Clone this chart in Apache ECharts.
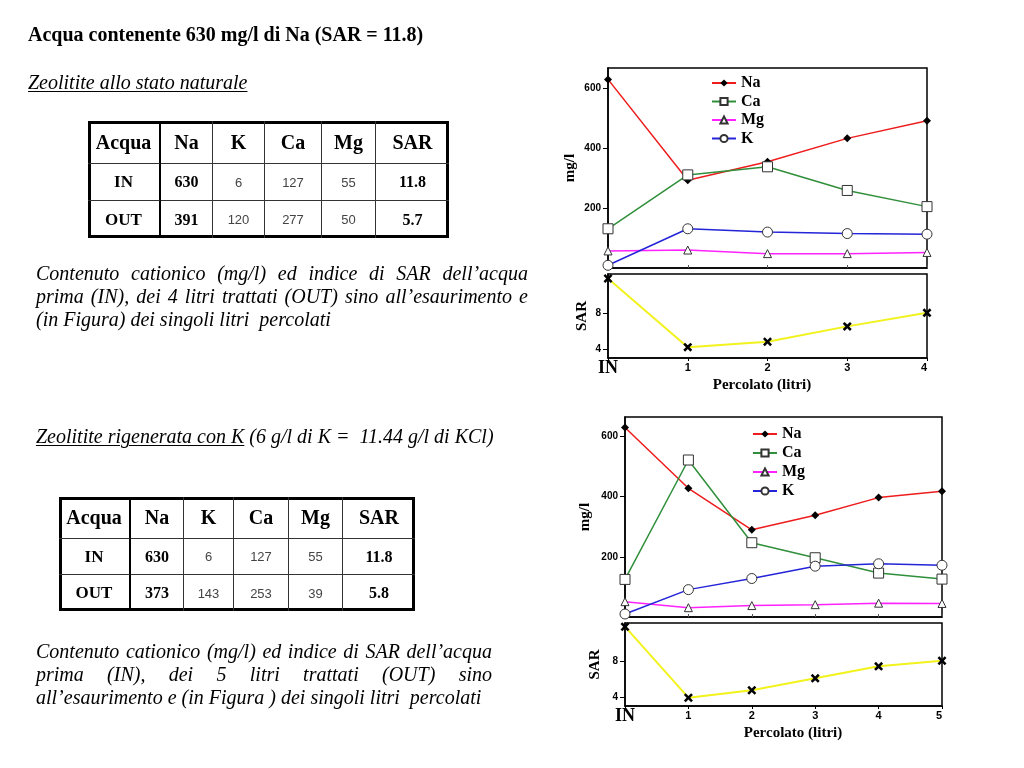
<!DOCTYPE html>
<html><head><meta charset="utf-8">
<script src="https://cdn.jsdelivr.net/npm/echarts@6/dist/echarts.min.js"></script>
<style>
html,body{margin:0;padding:0;background:#fff;}
#page{position:relative;width:1024px;height:768px;overflow:hidden;font-family:"Liberation Serif","Times New Roman",serif;color:#000;}
#chart{position:absolute;left:0;top:0;width:1024px;height:768px;}
.t{position:absolute;white-space:nowrap;font-size:20px;line-height:23px;}
.b{font-weight:bold;}
.it{font-style:italic;}
.u{text-decoration:underline;text-underline-offset:2px;text-decoration-thickness:1px;}
.par{position:absolute;font-style:italic;font-size:20px;line-height:23px;}
.par .j{text-align:justify;text-align-last:justify;}
.par .l{text-align:left;white-space:nowrap;}
.tbox{position:absolute;border:3px solid #000;box-sizing:border-box;}
.cell{position:absolute;box-sizing:border-box;display:flex;align-items:center;justify-content:center;}
.hd{font-weight:bold;font-size:20px;}
.rl{font-weight:bold;font-size:17px;}
.bv{font-weight:bold;font-size:16px;}
.sv{font-family:"Liberation Sans",Arial,sans-serif;font-size:13px;color:#444;}
</style>
</head><body>
<div id="page">
  <div id="chart"></div>
  <div class="t b" style="left:28px;top:23px;">Acqua contenente 630 mg/l di Na (SAR = 11.8)</div>
  <div class="t it u" style="left:28px;top:71px;">Zeolitite allo stato naturale</div>
  <div class="par" style="left:36px;top:262px;width:492px;">
    <div class="j">Contenuto cationico (mg/l) ed indice di SAR dell’acqua</div>
    <div class="j">prima (IN), dei 4 litri trattati (OUT) sino all’esaurimento e</div>
    <div class="l">(in Figura) dei singoli litri&nbsp; percolati</div>
  </div>
  <div class="t it" style="left:36px;top:425px;"><span class="u">Zeolitite rigenerata con K</span> (6 g/l di K = &nbsp;11.44 g/l di KCl)</div>
  <div class="par" style="left:36px;top:640px;width:456px;">
    <div class="j">Contenuto cationico (mg/l) ed indice di SAR dell’acqua</div>
    <div class="j">prima (IN), dei 5 litri trattati (OUT) sino</div>
    <div class="l">all’esaurimento e (in Figura ) dei singoli litri&nbsp; percolati</div>
  </div>
</div>
<script>
// ---------- data ----------
const tableHead = ['Acqua', 'Na', 'K', 'Ca', 'Mg', 'SAR'];
const table1Rows = [['IN', '630', '6', '127', '55', '11.8'], ['OUT', '391', '120', '277', '50', '5.7']];
const table2Rows = [['IN', '630', '6', '127', '55', '11.8'], ['OUT', '373', '143', '253', '39', '5.8']];

const catTop = ['IN', '1', '2', '3', '4'];
const naTop = [630, 293, 355, 433, 492];
const caTop = [131, 311, 338, 259, 205];
const mgTop = [57, 60, 48, 48, 52];
const kTop = [9, 131, 120, 115, 113];
const sarTop = [11.8, 4.2, 4.8, 6.5, 8.0];

const catBot = ['IN', '1', '2', '3', '4', '5'];
const naBot = [630, 428, 290, 338, 397, 418];
const caBot = [125, 522, 247, 197, 146, 126];
const mgBot = [51, 31, 38, 41, 46, 45];
const kBot = [10, 91, 128, 169, 177, 172];
const sarBot = [11.7, 4.0, 4.8, 6.1, 7.4, 8.0];

const mgTicks = [200, 400, 600];
const sarTicks = [4, 8];
const legendNames = ['Na', 'Ca', 'Mg', 'K'];

// ---------- tables ----------
function buildTable(left, top, colW, rowH, head, rows) {
  const W = colW.reduce((a, b) => a + b, 0), H = rowH.reduce((a, b) => a + b, 0);
  const box = document.createElement('div');
  box.className = 'tbox';
  Object.assign(box.style, {left: left + 'px', top: top + 'px', width: W + 'px', height: H + 'px'});
  const all = [head].concat(rows);
  let y = 0;
  all.forEach((row, r) => {
    let x = 0;
    row.forEach((txt, c) => {
      const d = document.createElement('div');
      d.className = 'cell ' + (r === 0 ? 'hd' : (c === 0 ? 'rl' : ((c === 1 || c === 5) ? 'bv' : 'sv')));
      Object.assign(d.style, {left: (x - 3) + 'px', top: (y - 3) + 'px', width: colW[c] + 'px', height: rowH[r] + 'px'});
      if (c < row.length - 1) d.style.borderRight = c === 0 ? '2px solid #000' : '1px solid #333';
      if (r < all.length - 1) d.style.borderBottom = '1px solid #333';
      d.textContent = txt;
      box.appendChild(d);
      x += colW[c];
    });
    y += rowH[r];
  });
  document.getElementById('page').appendChild(box);
}
buildTable(88, 121, [73, 52, 52, 57, 54, 73], [43, 37, 37], tableHead, table1Rows);
buildTable(59, 497, [72, 53, 50, 55, 54, 72], [42, 36, 36], tableHead, table2Rows);

// ---------- chart ----------
const SERIF = '"Liberation Serif","Times New Roman",serif';
const SANS = '"Liberation Sans",Arial,sans-serif';
const COL = {Na: '#ee1c1c', Ca: '#2f8f3a', Mg: '#ff22ff', K: '#2424d8', SAR: '#f2f21c'};
const XSYM = 'path://M0,2L2,0L5,3L8,0L10,2L7,5L10,8L8,10L5,7L2,10L0,8L3,5Z';

const chart = echarts.init(document.getElementById('chart'));

function xMain(gi, cats) {
  return {type: 'category', gridIndex: gi, data: cats, boundaryGap: false,
    axisLine: {show: true, lineStyle: {color: '#000', width: 1.5}},
    axisTick: {inside: true, length: 3, lineStyle: {color: '#555'}},
    axisLabel: {show: false}, splitLine: {show: false}};
}
function xSar(gi, cats, pad) {
  return {type: 'category', gridIndex: gi, data: cats, boundaryGap: false,
    axisLine: {show: true, lineStyle: {color: '#000', width: 1.5}},
    axisTick: {length: 3, lineStyle: {color: '#000'}},
    axisLabel: {interval: 0, margin: 4, color: '#000', fontFamily: SANS, fontSize: 11, fontWeight: 'bold',
      alignMaxLabel: 'right',
      formatter: (v, i) => i === 0 ? '{in|' + v + '}' : v,
      rich: {in: {fontFamily: SERIF, fontSize: 18, lineHeight: 12, color: '#000'}}},
    name: 'Percolato (litri)', nameLocation: 'middle', nameGap: 17,
    nameTextStyle: {fontFamily: SERIF, fontWeight: 'bold', fontSize: 15, color: '#000', padding: pad},
    splitLine: {show: false}};
}
function yAx(gi, min, max, ticks, name, gap) {
  return {type: 'value', gridIndex: gi, min: min, max: max,
    axisLine: {show: true, lineStyle: {color: '#000', width: 1.5}},
    splitLine: {show: false},
    axisTick: {show: true, length: 5, customValues: ticks, lineStyle: {color: '#000'}},
    axisLabel: {customValues: ticks, margin: 7, color: '#000', fontFamily: SANS, fontSize: 10, fontWeight: 'bold'},
    name: name, nameLocation: 'middle', nameRotate: 90, nameGap: gap,
    nameTextStyle: {fontFamily: SERIF, fontWeight: 'bold', fontSize: 15, color: '#000'}};
}
const openStyle = {color: '#fff', borderColor: '#333', borderWidth: 1};
function ser(name, data, idx, symbol, size, itemStyle, lineColor, lw) {
  return {type: 'line', name: name, data: data, xAxisIndex: idx, yAxisIndex: idx,
    symbol: symbol, symbolSize: size, showAllSymbol: true, itemStyle: itemStyle,
    lineStyle: {color: lineColor, width: lw || 1.5}, emphasis: {disabled: true}, z: 3};
}
function mainSeries(idx, na, ca, mg, k) {
  return [
    ser('Na', na, idx, 'diamond', 8, {color: '#000'}, COL.Na),
    ser('Ca', ca, idx, 'rect', 10, openStyle, COL.Ca),
    ser('Mg', mg, idx, 'triangle', 8, openStyle, COL.Mg),
    ser('K', k, idx, 'circle', 10, openStyle, COL.K)
  ];
}
function legendAt(left, top, gap) {
  return {orient: 'vertical', left: left, top: top, padding: 0, itemWidth: 24, itemHeight: 9, itemGap: gap,
    selectedMode: false, data: legendNames,
    textStyle: {fontFamily: SERIF, fontWeight: 'bold', fontSize: 16, lineHeight: 16, color: '#000'}};
}
const gridBox = {show: true, borderColor: '#000', borderWidth: 1.5, containLabel: false};

chart.setOption({
  animation: false,
  backgroundColor: 'transparent',
  grid: [
    Object.assign({left: 608, top: 68, width: 319, height: 200}, gridBox),
    Object.assign({left: 608, top: 274, width: 319, height: 84}, gridBox),
    Object.assign({left: 625, top: 417, width: 317, height: 200}, gridBox),
    Object.assign({left: 625, top: 623, width: 317, height: 83}, gridBox)
  ],
  xAxis: [xMain(0, catTop), xSar(1, catTop, [0, 11, 0, 0]), xMain(2, catBot), xSar(3, catBot, [0, 0, 0, 19])],
  yAxis: [
    yAx(0, 0, 668, mgTicks, 'mg/l', 30),
    yAx(1, 3, 12.3, sarTicks, 'SAR', 18),
    yAx(2, 0, 665, mgTicks, 'mg/l', 32),
    yAx(3, 3.1, 12.1, sarTicks, 'SAR', 22)
  ],
  legend: [legendAt(711, 75, 2.5), legendAt(752, 426, 3)],
  series: [].concat(
    mainSeries(0, naTop, caTop, mgTop, kTop),
    [ser('SAR', sarTop, 1, XSYM, 9, {color: '#000'}, COL.SAR, 2)],
    mainSeries(2, naBot, caBot, mgBot, kBot),
    [ser('SAR', sarBot, 3, XSYM, 9, {color: '#000'}, COL.SAR, 2)]
  )
});
</script>
</body></html>
